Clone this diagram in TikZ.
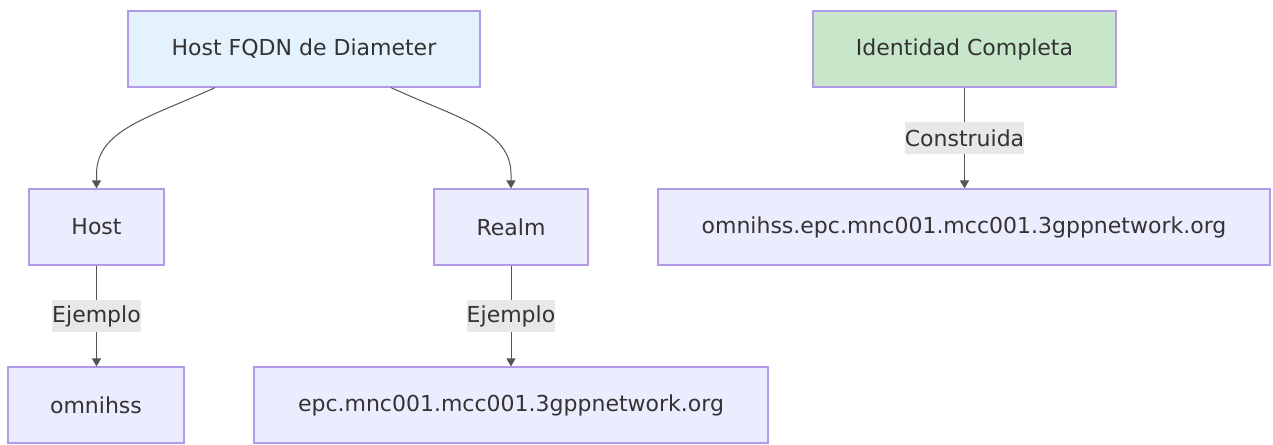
\documentclass[tikz,border=0pt]{standalone}
\usepackage{fontspec}
\setmainfont{DejaVu Sans}
\usetikzlibrary{arrows.meta,calc}
\definecolor{boxfill}{HTML}{ECECFF}
\definecolor{boxline}{HTML}{B19BE8}
\definecolor{bluefill}{HTML}{E3F2FD}
\definecolor{greenfill}{HTML}{C8E6C9}
\definecolor{txt}{HTML}{333333}
\definecolor{edge}{HTML}{555555}
\definecolor{lblfill}{HTML}{E8E8E8}
\tikzset{
  box/.style={draw=boxline, fill=boxfill, line width=1.2pt, inner sep=0pt, text=txt, font=\fontsize{22}{26}\selectfont, minimum height=76pt},
  lbl/.style={fill=lblfill, inner xsep=0pt, inner ysep=0pt, minimum height=32pt, text=txt, font=\fontsize{22}{26}\selectfont},
  conn/.style={draw=edge, line width=1pt, -{Triangle[width=9pt,length=8pt]}}
}
\begin{document}
\begin{tikzpicture}[x=1pt,y=-1pt]
\useasboundingbox (0,0) rectangle (1273,444);
\node[box, fill=bluefill, minimum width=352pt] (fqdn) at (304,49) {Host FQDN de Diameter};
\node[box, fill=greenfill, minimum width=303pt] (ident) at (964.5,49) {Identidad Completa};
\node[box, minimum width=135pt] (host) at (96.5,227) {Host};
\node[box, minimum width=154pt] (realm) at (511,227) {Realm};
\node[box, minimum width=612pt] (full) at (964,227) {omnihss.epc.mnc001.mcc001.3gppnetwork.org};
\node[box, minimum width=176pt] (hostex) at (96,405) {omnihss};
\node[box, minimum width=514pt] (realmex) at (511,405) {epc.mnc001.mcc001.3gppnetwork.org};

\draw[conn] ($(fqdn.south)+(-89,0)$) .. controls ($(fqdn.south)+(-154,30)$) and ($(host.north)+(0,-59)$) .. ($(host.north)+(0,-14)$) -- (host.north);
\draw[conn] ($(fqdn.south)+(87,0)$) .. controls ($(fqdn.south)+(152,30)$) and ($(realm.north)+(0,-59)$) .. ($(realm.north)+(0,-14)$) -- (realm.north);

\draw[conn] (host.south) -- node[lbl] (l1) {Ejemplo} (host.south |- hostex.north);
\draw[conn] (realm.south) -- node[lbl] (l2) {Ejemplo} (realmex.north);
\draw[conn] (ident.south) -- node[lbl] (l3) {Construida} (ident.south |- full.north);
\end{tikzpicture}
\end{document}
